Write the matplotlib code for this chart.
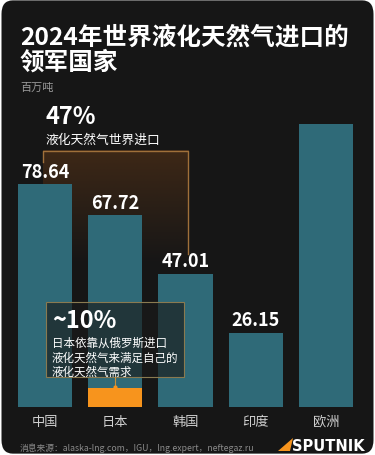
import matplotlib.pyplot as plt
import numpy as np
from matplotlib.patches import FancyBboxPatch, Rectangle, Polygon

plt.rcParams['font.family'] = ['Noto Sans CJK SC', 'DejaVu Sans']

# data (million tonnes)
countries = ['中国', '日本', '韩国', '印度', '欧洲']
imports = [78.64, 67.72, 47.01, 26.15, 99.8]
labels = ['78.64', '67.72', '47.01', '26.15', '']
japan_from_russia = 0.10  # share of Japan's LNG imports

title = '2024年世界液化天然气进口的\n领军国家'
unit = '百万吨'
source = '消息来源：alaska-lng.com，IGU，lng.expert，neftegaz.ru'

BG = '#161616'
TEAL = '#2f6a78'
ORANGE = '#f7941d'
W, H = 375, 456

fig = plt.figure(figsize=(W / 100, H / 100), dpi=100)
fig.patch.set_facecolor('white')
fig.patches.append(FancyBboxPatch((0.004, 0.003), 0.992, 0.994,
                                  boxstyle='round,pad=0,rounding_size=0.03',
                                  transform=fig.transFigure, fc=BG, ec='none',
                                  zorder=-5))


def px(x, y):
    return x / W, 1 - y / H


# axes placed so baseline sits at y=408px
ax = fig.add_axes([9.9 / W, (H - 408) / H, 351.2 / W, 312 / H])
ax.set_facecolor('none')
ax.axis('off')

x = np.arange(len(countries))
ax.bar(x, imports, width=0.77, color=TEAL, zorder=3)
ax.bar(x[1], imports[1] * japan_from_russia, width=0.77, color=ORANGE, zorder=4)

for xi, v, lab in zip(x, imports, labels):
    ax.text(xi, v + 1.2, lab, ha='center', va='bottom', color='white',
            fontsize=13, fontweight='bold', zorder=5)

# bracket over china + japan + korea
grad = np.zeros((100, 2, 4))
grad[..., 0] = 0.40
grad[..., 1] = 0.23
grad[..., 2] = 0.09
grad[..., 3] = np.linspace(0.5, 0.0, 100)[:, None]
ax.imshow(grad, extent=(-0.03, 2.04, 50, 90.4), origin='upper',
          aspect='auto', zorder=1, interpolation='bilinear')
ax.set_xlim(-0.5, 4.5)
ax.set_ylim(0, 110)
ax.plot([-0.03, -0.03, 2.04, 2.04], [86.4, 90.4, 90.4, 54.0],
        color='#a0703a', lw=1.0, zorder=2)

# callout box for japan
ax.add_patch(Rectangle((0.01, 10.6), 1.97, 26.5, fc='#1a1a1a', alpha=0.65,
                       ec='none', zorder=6))
ax.add_patch(Rectangle((0.01, 10.6), 1.97, 26.5, fc='none', ec='#8a7a50',
                       lw=0.8, zorder=7))
ax.plot([1.0, 1.0], [10.6, 7.2], color='#c8903a', lw=0.8, zorder=7)
ax.plot(1.0, 7.2, 'o', color=ORANGE, ms=2, zorder=7)
ax.text(0.1, 30.8, '~10%', color='white', fontsize=17, fontweight='bold',
        va='center', ha='left', zorder=8)
ax.text(0.1, 25.0, '日本依靠从俄罗斯进口\n液化天然气来满足自己的\n液化天然气需求',
        color='white', fontsize=8.3, va='top', ha='left', linespacing=1.15,
        zorder=8)

# category labels
for xi, c in zip(x, countries):
    ax.text(xi, -5, c, ha='center', va='center', color='#d0d0d0',
            fontsize=9.5, clip_on=False)

# titles
fig.text(*px(20, 38), title.split('\n')[0], color='white', fontsize=17.7,
         fontweight='heavy', va='center', ha='left')
fig.text(*px(20, 63), title.split('\n')[1], color='white', fontsize=17.7,
         fontweight='heavy', va='center', ha='left')
fig.text(*px(20, 88), unit, color='#9a9a9a', fontsize=8, va='center')
fig.text(*px(45, 117), '47%', color='white', fontsize=17, fontweight='bold',
         va='center')
fig.text(*px(45, 140), '液化天然气世界进口', color='white', fontsize=9.2,
         va='center')

# footer
fig.text(*px(20, 448), source, color='#8a8a8a', fontsize=6.3, va='center')
fig.text(*px(292, 447), 'SPUTNIK', color='white', fontsize=10.5,
         fontweight='bold', va='center', family='DejaVu Sans')
fig.patches.append(Polygon([px(278, 452), px(293, 439), px(290, 452)],
                           closed=True, transform=fig.transFigure,
                           fc=ORANGE, ec='none'))

fig.savefig('out.png', dpi=100, facecolor=fig.get_facecolor())
